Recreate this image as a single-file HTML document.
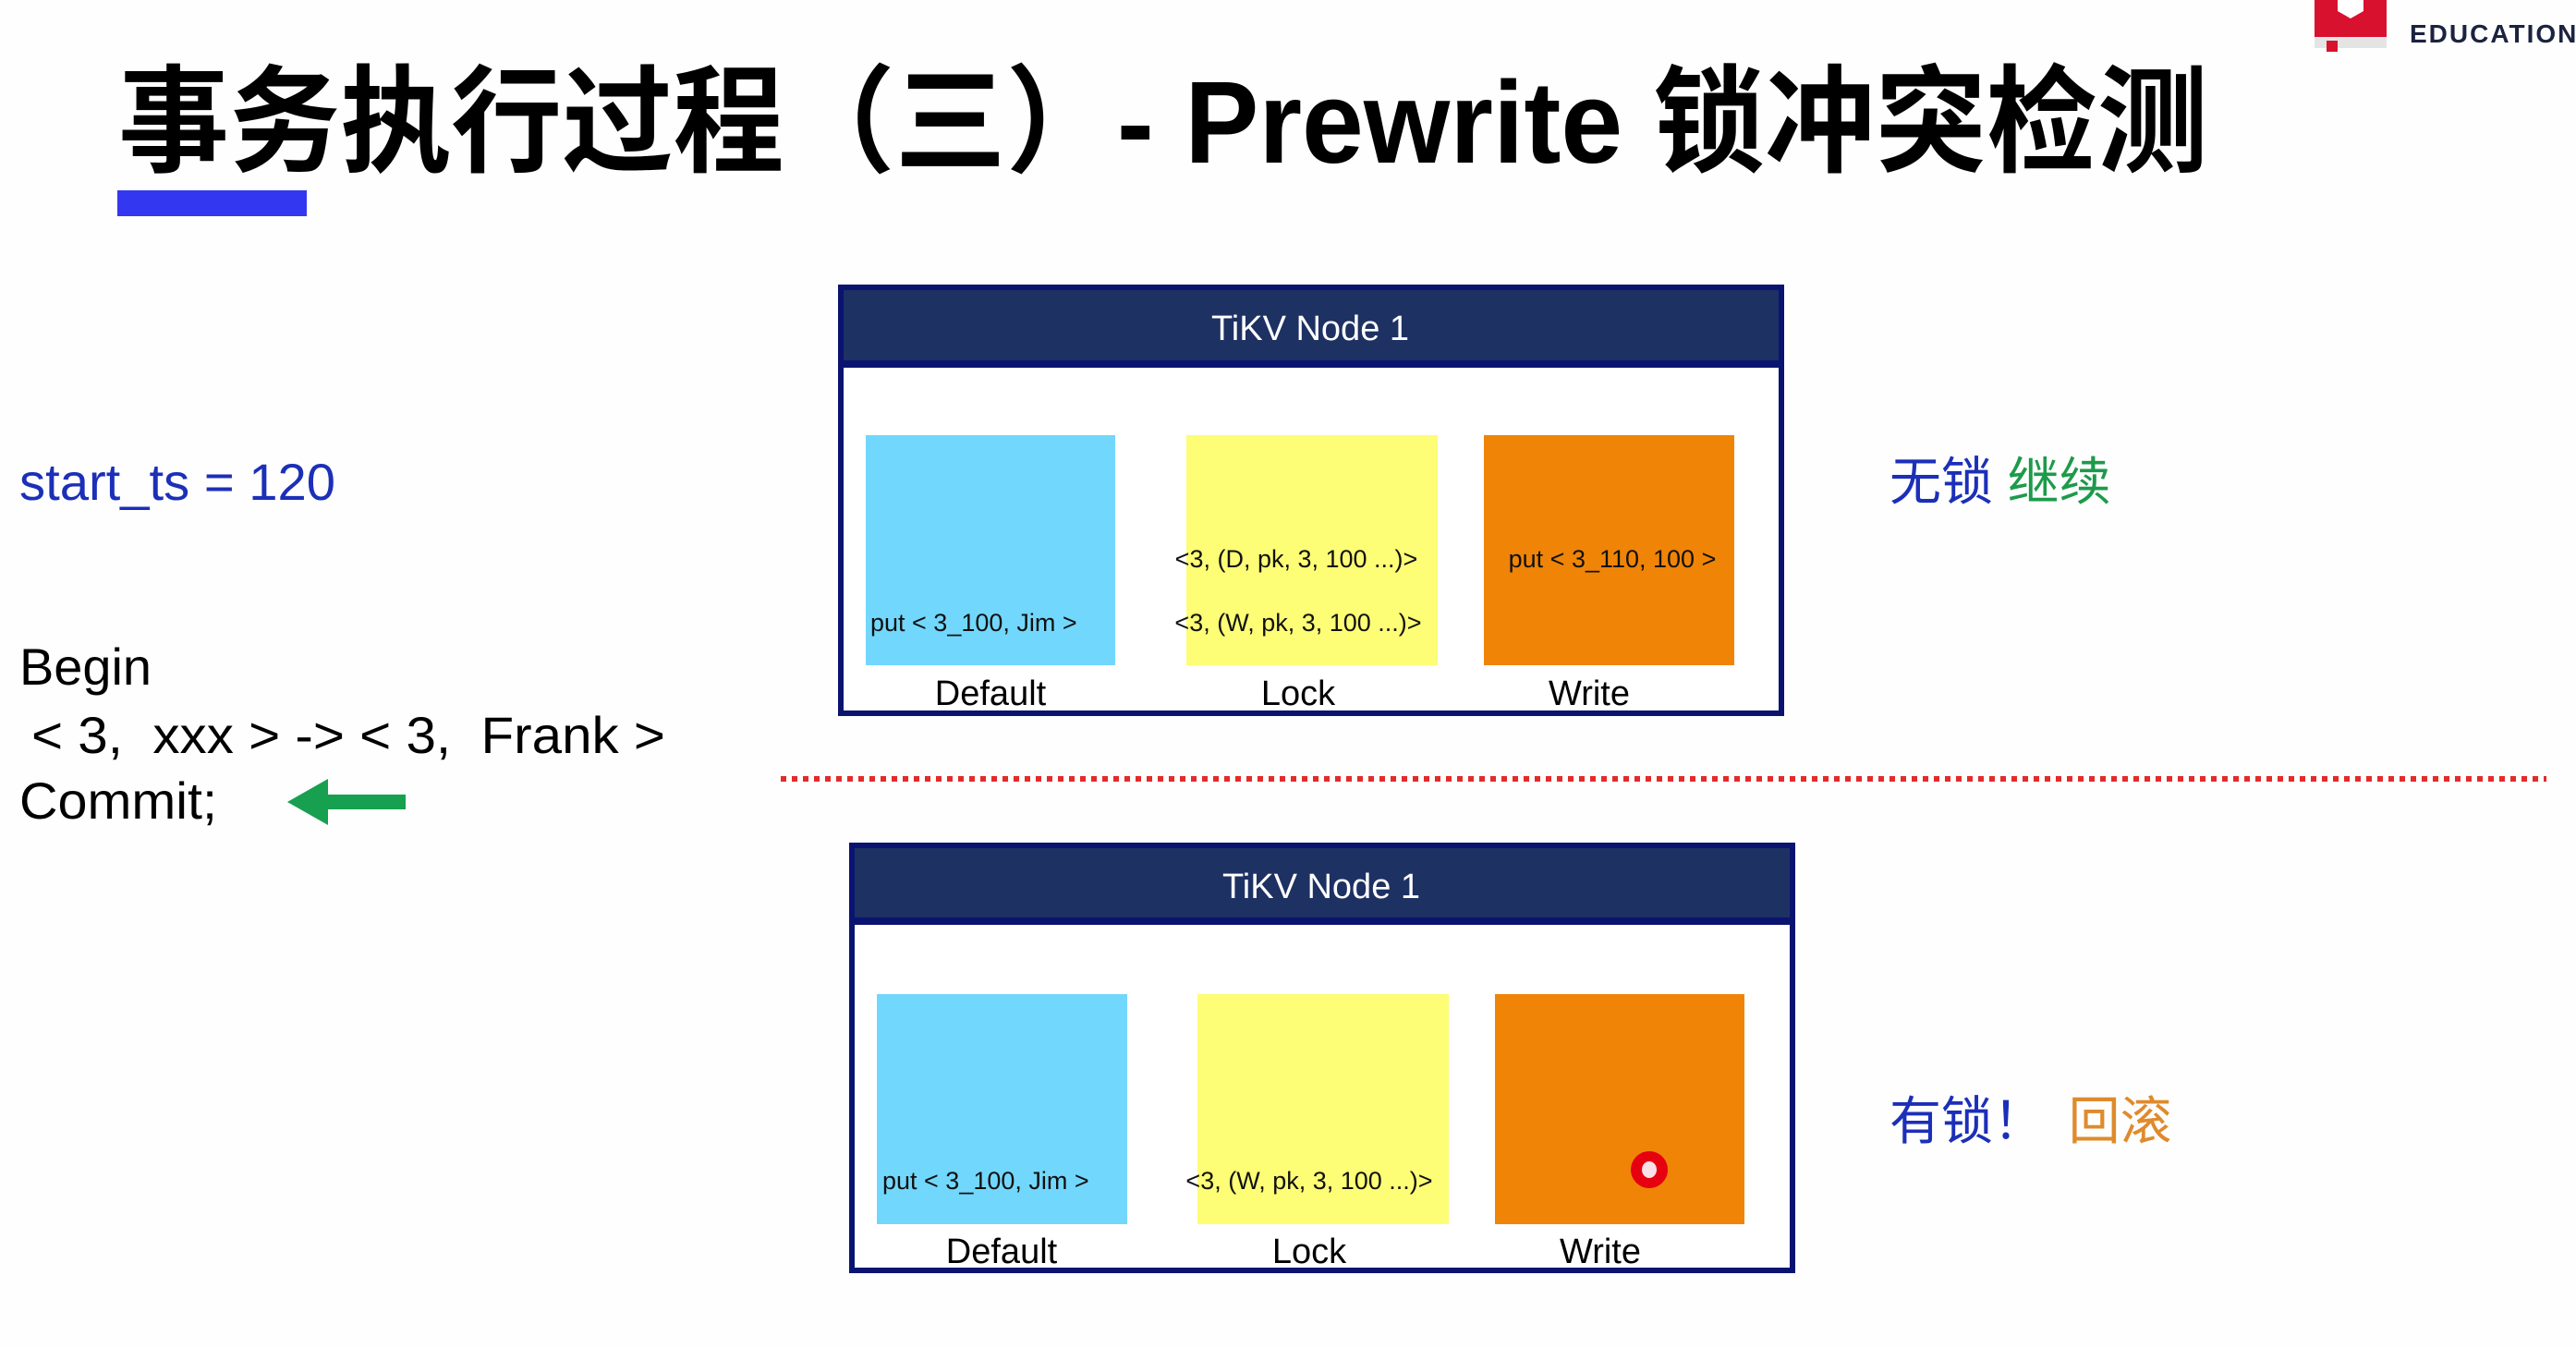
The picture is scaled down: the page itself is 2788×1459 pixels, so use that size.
<!DOCTYPE html>
<html><head><meta charset="utf-8"><style>
html,body{margin:0;padding:0;background:#fdfefd;}
svg{display:block}
text{font-family:"Liberation Sans","Noto Sans CJK SC",sans-serif;}
</style></head><body>
<svg width="2788" height="1459" viewBox="0 0 2788 1459" xmlns="http://www.w3.org/2000/svg">
<rect width="2788" height="1459" fill="#fdfefd"/>
<!-- logo -->
<rect x="2505" y="0" width="78" height="40" fill="#d8112f"/>
<rect x="2505" y="40" width="78" height="12" fill="#e4e4e4"/>
<rect x="2518" y="44" width="12" height="12" fill="#d8112f"/>
<path d="M2530 0 L2558 0 L2558 12 L2544 20 L2530 12 Z" fill="#fff"/>
<text x="2608" y="46" font-size="28" font-weight="bold" fill="#1c2340" letter-spacing="2">EDUCATION</text>
<!-- title -->
<text x="128" y="176" font-size="126" font-weight="bold" fill="#000" textLength="2262" lengthAdjust="spacingAndGlyphs">事务执行过程（三）- Prewrite 锁冲突检测</text>
<rect x="127" y="206" width="205" height="28" fill="#3437f0"/>
<!-- left text -->
<text x="21" y="541" font-size="56" fill="#1c2fb8" textLength="342" lengthAdjust="spacingAndGlyphs">start_ts = 120</text>
<text x="21" y="741" font-size="56" fill="#000" textLength="143" lengthAdjust="spacingAndGlyphs">Begin</text>
<text x="34" y="815" font-size="56" fill="#000" xml:space="preserve" textLength="686" lengthAdjust="spacingAndGlyphs">&lt; 3,  xxx &gt; -&gt; &lt; 3,  Frank &gt;</text>
<text x="21" y="886" font-size="56" fill="#000" textLength="214" lengthAdjust="spacingAndGlyphs">Commit;</text>
<path d="M311 868 L355 843 L355 860 L439 860 L439 876 L355 876 L355 893 Z" fill="#16a050"/>
<!-- red dotted -->
<line x1="845" y1="843" x2="2756" y2="843" stroke="#e52a2a" stroke-width="6" stroke-dasharray="6 6"/>
<!-- right text -->
<text x="2045" y="541" font-size="56" fill="#1c2fb8">无锁 <tspan fill="#1d9a4a">继续</tspan></text>
<text x="2045" y="1233" font-size="56" fill="#1c2fb8">有锁！ <tspan fill="#e08a2c" dx="10">回滚</tspan></text>
<!-- box 1 -->
<rect x="910" y="311" width="1018" height="461" fill="#fff" stroke="#0a1470" stroke-width="6"/>
<rect x="913" y="314" width="1012" height="84" fill="#1e3163"/>
<rect x="913" y="390" width="1012" height="8" fill="#0a1470"/>
<text x="1418" y="368" font-size="38" fill="#fff" text-anchor="middle">TiKV Node 1</text>
<rect x="937" y="471" width="270" height="249" fill="#72d7fc"/>
<rect x="1284" y="471" width="272" height="249" fill="#fdfd76"/>
<rect x="1606" y="471" width="271" height="249" fill="#f08406"/>
<text x="942" y="683" font-size="27" fill="#111">put &lt; 3_100, Jim &gt;</text>
<text x="1403" y="614" font-size="27" fill="#111" text-anchor="middle">&lt;3, (D, pk, 3, 100 ...)&gt;</text>
<text x="1405" y="683" font-size="27" fill="#111" text-anchor="middle">&lt;3, (W, pk, 3, 100 ...)&gt;</text>
<text x="1745" y="614" font-size="27" fill="#111" text-anchor="middle">put &lt; 3_110, 100 &gt;</text>
<text x="1072" y="763" font-size="38" fill="#000" text-anchor="middle">Default</text>
<text x="1405" y="763" font-size="38" fill="#000" text-anchor="middle">Lock</text>
<text x="1720" y="763" font-size="38" fill="#000" text-anchor="middle">Write</text>
<!-- box 2 -->
<rect x="922" y="915" width="1018" height="460" fill="#fff" stroke="#0a1470" stroke-width="6"/>
<rect x="925" y="918" width="1012" height="83" fill="#1e3163"/>
<rect x="925" y="993" width="1012" height="8" fill="#0a1470"/>
<text x="1430" y="972" font-size="38" fill="#fff" text-anchor="middle">TiKV Node 1</text>
<rect x="949" y="1076" width="271" height="249" fill="#72d7fc"/>
<rect x="1296" y="1076" width="272" height="249" fill="#fdfd76"/>
<rect x="1618" y="1076" width="270" height="249" fill="#f08406"/>
<text x="955" y="1287" font-size="27" fill="#111">put &lt; 3_100, Jim &gt;</text>
<text x="1417" y="1287" font-size="27" fill="#111" text-anchor="middle">&lt;3, (W, pk, 3, 100 ...)&gt;</text>
<circle cx="1785" cy="1266" r="20" fill="#e60010"/>
<ellipse cx="1785" cy="1266" rx="8" ry="9" fill="#fbe0e6"/>
<text x="1084" y="1367" font-size="38" fill="#000" text-anchor="middle">Default</text>
<text x="1417" y="1367" font-size="38" fill="#000" text-anchor="middle">Lock</text>
<text x="1732" y="1367" font-size="38" fill="#000" text-anchor="middle">Write</text>
</svg>
</body></html>
